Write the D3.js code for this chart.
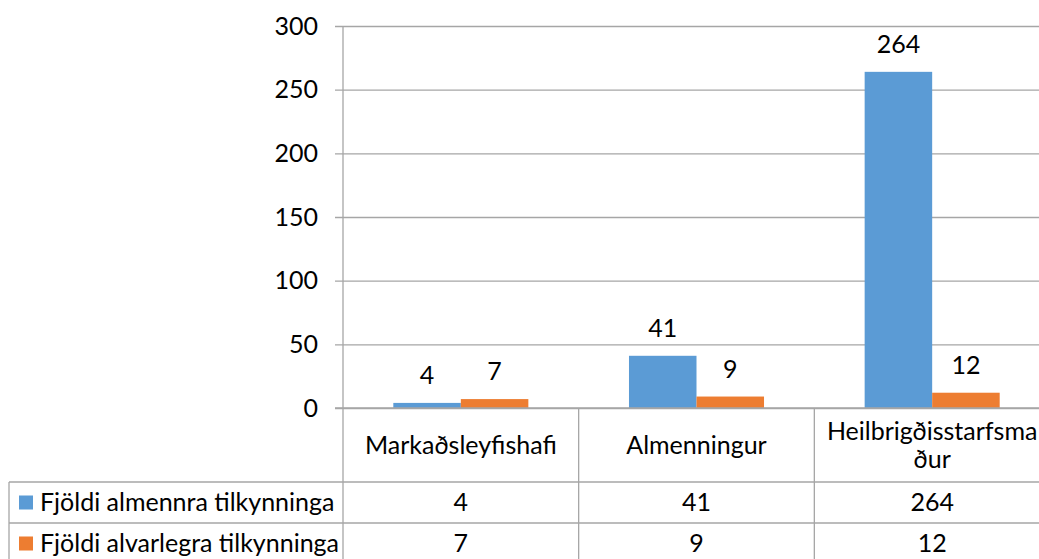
<!DOCTYPE html>
<html>
<head>
<meta charset="utf-8">
<script src="https://cdn.jsdelivr.net/npm/d3@7"></script>
<style>
  body { margin: 0; background: #fff; }
  svg { display: block; font-family: Lato, "Liberation Sans", Arial, sans-serif; }
</style>
</head>
<body>
<svg id="chart" width="1039" height="559"></svg>
<script>
const categories = ["Markaðsleyfishafi", "Almenningur", "Heilbrigðisstarfsmaður"];
const seriesNames = ["Fjöldi almennra tilkynninga", "Fjöldi alvarlegra tilkynninga"];
const almennra = [4, 41, 264];
const alvarlegra = [7, 9, 12];
const yTicks = [0, 50, 100, 150, 200, 250, 300];
const colors = ["#5B9BD5", "#ED7D31"];

const seriesValues = [almennra, alvarlegra];
const svg = d3.select("#chart");
const fontSize = 25;
const gridColor = "#A6A6A6";

const plotLeft = 343, plotRight = 1050, plotTop = 26, plotBottom = 408;
const headerBottom = 482, row1Bottom = 523, row2Bottom = 564;
const legendLeft = 9;

const y = d3.scaleLinear().domain([0, 300]).range([plotBottom, plotTop]);
const x = d3.scaleBand().domain(categories).range([plotLeft, plotRight])
  .paddingInner(0.427).paddingOuter(0.2135);
const xs = d3.scaleBand().domain(seriesNames).range([0, x.bandwidth()]).padding(0);
const cellX = d3.scaleBand().domain(categories).range([plotLeft, plotRight]).padding(0);

// gridlines + tick extensions
const yAxis = d3.axisLeft(y).tickValues(yTicks).tickSize(-(plotRight - plotLeft + 8)).tickPadding(0).tickFormat("");
const gAxis = svg.append("g").attr("transform", `translate(${plotLeft - 8},0)`).call(yAxis);
gAxis.select(".domain").remove();
gAxis.selectAll(".tick line").attr("stroke", gridColor).attr("stroke-width", 1.3);

// y tick labels
svg.append("g").selectAll("text").data(yTicks).join("text")
  .attr("x", 318).attr("y", d => y(d)).attr("dy", "0.35em")
  .attr("text-anchor", "end").attr("font-size", fontSize).attr("fill", "#000")
  .text(d => d);

// bars
seriesNames.forEach((s, si) => {
  svg.append("g").selectAll("rect").data(categories).join("rect")
    .attr("x", c => x(c) + xs(s))
    .attr("width", xs.bandwidth())
    .attr("y", (c, i) => y(seriesValues[si][i]))
    .attr("height", (c, i) => plotBottom - y(seriesValues[si][i]))
    .attr("fill", colors[si]);
  svg.append("g").selectAll("text").data(categories).join("text")
    .attr("x", c => x(c) + xs(s) + xs.bandwidth() / 2)
    .attr("y", (c, i) => y(seriesValues[si][i]) - 19)
    .attr("text-anchor", "middle").attr("font-size", fontSize).attr("fill", "#000")
    .text((c, i) => seriesValues[si][i]);
});

// table lines
const lines = svg.append("g").attr("stroke", gridColor).attr("stroke-width", 1.3);
lines.append("line").attr("x1", plotLeft - 8).attr("x2", plotRight).attr("y1", plotBottom).attr("y2", plotBottom);
lines.append("line").attr("x1", legendLeft).attr("x2", plotRight).attr("y1", headerBottom).attr("y2", headerBottom);
lines.append("line").attr("x1", legendLeft).attr("x2", plotRight).attr("y1", row1Bottom).attr("y2", row1Bottom);
lines.append("line").attr("x1", legendLeft).attr("x2", plotRight).attr("y1", row2Bottom).attr("y2", row2Bottom);
lines.append("line").attr("x1", legendLeft).attr("x2", legendLeft).attr("y1", headerBottom).attr("y2", row2Bottom);
lines.append("line").attr("x1", plotLeft).attr("x2", plotLeft).attr("y1", plotTop).attr("y2", row2Bottom);
categories.forEach(c => {
  const xr = cellX(c) + cellX.bandwidth();
  lines.append("line").attr("x1", xr).attr("x2", xr).attr("y1", plotBottom).attr("y2", row2Bottom);
});

// category labels (wrapped by character to fit cell)
const maxLabelW = 212;
categories.forEach(c => {
  const t = svg.append("text").attr("font-size", fontSize).attr("text-anchor", "middle")
    .attr("x", cellX(c) + cellX.bandwidth() / 2).attr("fill", "#000");
  const tmp = svg.append("text").attr("font-size", fontSize);
  const linesArr = [];
  let cur = "";
  for (const ch of c) {
    tmp.text(cur + ch);
    if (tmp.node().getComputedTextLength() > maxLabelW && cur.length) {
      linesArr.push(cur); cur = ch;
    } else cur += ch;
  }
  linesArr.push(cur);
  tmp.remove();
  const lh = 28;
  const mid = (plotBottom + headerBottom) / 2;
  const startY = mid - (linesArr.length - 1) * lh / 2;
  linesArr.forEach((ln, i) => {
    t.append("tspan").attr("x", cellX(c) + cellX.bandwidth() / 2)
      .attr("y", startY + i * lh).attr("dy", "0.35em").text(ln);
  });
});

// data rows
const rowMids = [(headerBottom + row1Bottom) / 2, (row1Bottom + row2Bottom) / 2];
seriesNames.forEach((s, si) => {
  svg.append("rect").attr("x", 19).attr("y", rowMids[si] - 7).attr("width", 14).attr("height", 14).attr("fill", colors[si]);
  svg.append("text").attr("x", 40).attr("y", rowMids[si]).attr("dy", "0.35em")
    .attr("font-size", fontSize).attr("fill", "#000").text(s);
  svg.append("g").selectAll("text").data(categories).join("text")
    .attr("x", c => cellX(c) + cellX.bandwidth() / 2).attr("y", rowMids[si]).attr("dy", "0.35em")
    .attr("text-anchor", "middle").attr("font-size", fontSize).attr("fill", "#000")
    .text((c, i) => seriesValues[si][i]);
});
</script>
</body>
</html>
